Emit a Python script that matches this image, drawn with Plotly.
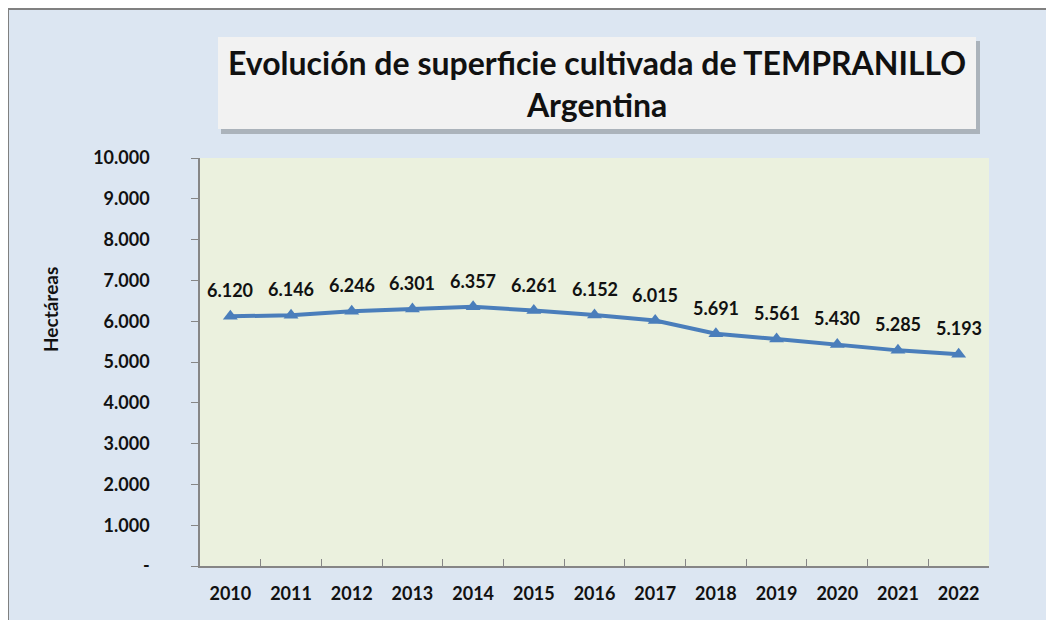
import plotly.graph_objects as go

years = ["2010", "2011", "2012", "2013", "2014", "2015", "2016", "2017", "2018", "2019", "2020", "2021", "2022"]
hectareas = [6120, 6146, 6246, 6301, 6357, 6261, 6152, 6015, 5691, 5561, 5430, 5285, 5193]
ytick_vals = [0, 1000, 2000, 3000, 4000, 5000, 6000, 7000, 8000, 9000, 10000]
ytick_text = ["-", "1.000", "2.000", "3.000", "4.000", "5.000", "6.000", "7.000", "8.000", "9.000", "10.000"]
title_text = "Evolución de superficie cultivada de TEMPRANILLO<br>Argentina"
y_title = "Hectáreas"

W, H = 1054, 620
L, R, T, B = 192, 981, 150, 558


def px(x):
    return (x - L) / (R - L)


def py(y):
    return (B - y) / (B - T)


FONT = "Lato"
LINE = "#4a7ebb"
TXT = "#111111"

fig = go.Figure()
fig.add_trace(go.Scatter(
    x=years, y=hectareas, mode="lines+markers",
    line=dict(color=LINE, width=4),
    marker=dict(symbol="triangle-up", size=13, color=LINE),
    hoverinfo="x+y", showlegend=False,
))

for i, v in enumerate(hectareas):
    fig.add_annotation(x=i, y=v, xref="x", yref="y", text=f"{v:,}".replace(",", "."),
                       showarrow=False, xanchor="center", yanchor="middle", yshift=26,
                       font=dict(family=FONT, size=18, color=TXT, weight="bold"))

shapes = [
    dict(type="rect", xref="paper", yref="paper", x0=px(0), x1=px(W + 20), y0=py(H + 20), y1=py(1),
         line=dict(color="#808080", width=2), layer="below"),
    dict(type="rect", xref="paper", yref="paper", x0=px(213), x1=px(972), y0=py(126), y1=py(33),
         fillcolor="#9ba1a8", line=dict(width=0), layer="below", opacity=0.75),
    dict(type="rect", xref="paper", yref="paper", x0=px(210), x1=px(968), y0=py(121), y1=py(29),
         fillcolor="#f2f2f2", line=dict(width=0), layer="below"),
]

fig.add_annotation(xref="paper", yref="paper", x=px(589), y=py(75), text=title_text,
                   showarrow=False, align="center", xanchor="center", yanchor="middle",
                   font=dict(family=FONT, size=32, color=TXT, weight="bold"))
fig.add_annotation(xref="paper", yref="paper", x=px(42), y=py(302), text=y_title,
                   showarrow=False, textangle=-90, xanchor="center", yanchor="middle",
                   font=dict(family=FONT, size=19, color=TXT, weight="bold"))

fig.update_layout(
    width=W, height=H,
    margin=dict(l=L, r=W - R, t=T, b=H - B, pad=0),
    paper_bgcolor="#dce6f2", plot_bgcolor="#ebf1de",
    shapes=shapes,
    xaxis=dict(type="category", range=[-0.5, 12.5], tickson="boundaries", ticks="inside",
               ticklen=7, tickcolor="#868686", showline=True, linecolor="#868686", linewidth=1.5,
               showgrid=False, zeroline=False, ticklabelstandoff=11,
               tickfont=dict(family=FONT, size=18, color=TXT, weight="bold")),
    yaxis=dict(range=[0, 10000], tickvals=ytick_vals, ticktext=ytick_text, ticks="outside",
               ticklen=7, tickcolor="#868686", showline=True, linecolor="#868686", linewidth=1.5,
               showgrid=False, zeroline=False, ticklabelstandoff=38,
               tickfont=dict(family=FONT, size=18, color=TXT, weight="bold")),
)

fig.write_html("out.html")
